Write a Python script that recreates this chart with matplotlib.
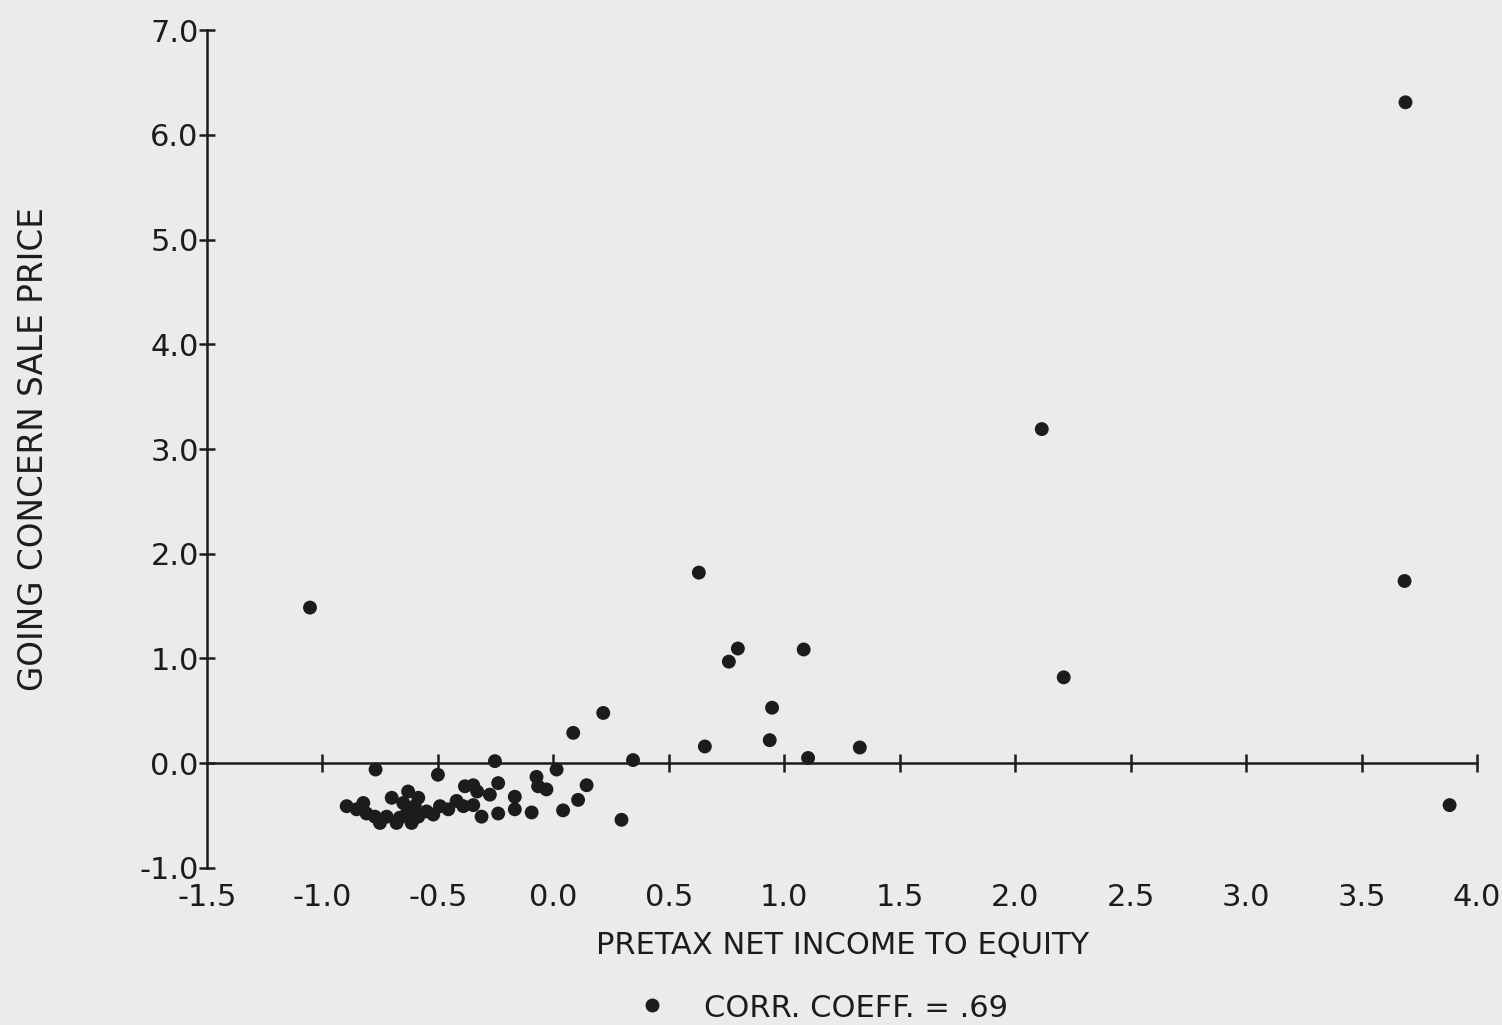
import matplotlib
matplotlib.use("Agg")
import matplotlib.pyplot as plt
from matplotlib.lines import Line2D

# data
x_vals = [-0.77, -0.50, -0.253, 0.014, 0.345, -0.073, -0.066, -0.03, 0.144, 0.107,
          0.295, 0.042, -0.094, -0.167, -0.167, -0.239, -0.239, -0.275, -0.347, -0.383,
          -0.33, -0.311, -0.347, -0.39, -0.419, -0.455, -0.491, -0.52, -0.549, -0.585,
          -0.60, -0.629, -0.65, -0.635, -0.614, -0.665, -0.679, -0.70, -0.722, -0.751,
          -0.773, -0.809, -0.823, -0.852, -0.895, -0.585,
          0.216, 0.086, 0.656, 0.947, 0.937, 1.103, 1.327,
          -1.054, 0.630, 0.76, 0.799, 1.084, 2.115, 2.21, 3.69, 3.686, 3.881]
y_vals = [-0.06, -0.11, 0.02, -0.06, 0.03, -0.13, -0.22, -0.25, -0.21, -0.35,
          -0.54, -0.45, -0.47, -0.44, -0.32, -0.48, -0.19, -0.30, -0.21, -0.22,
          -0.27, -0.51, -0.40, -0.41, -0.36, -0.44, -0.41, -0.49, -0.46, -0.51,
          -0.41, -0.27, -0.38, -0.48, -0.57, -0.52, -0.57, -0.33, -0.51, -0.57,
          -0.51, -0.48, -0.38, -0.44, -0.41, -0.33,
          0.48, 0.29, 0.16, 0.53, 0.22, 0.05, 0.15,
          1.486, 1.82, 0.97, 1.095, 1.086, 3.19, 0.82, 6.31, 1.74, -0.40]

x_ticks = [-1.5, -1.0, -0.5, 0.0, 0.5, 1.0, 1.5, 2.0, 2.5, 3.0, 3.5, 4.0]
x_tick_labels = ["-1.5", "-1.0", "-0.5", "0.0", "0.5", "1.0", "1.5",
                 "2.0", "2.5", "3.0", "3.5", "4.0"]
y_ticks = [-1.0, 0.0, 1.0, 2.0, 3.0, 4.0, 5.0, 6.0, 7.0]
y_tick_labels = ["-1.0", "0.0", "1.0", "2.0", "3.0", "4.0", "5.0", "6.0", "7.0"]

x_title = "PRETAX NET INCOME TO EQUITY"
y_title = "GOING CONCERN SALE PRICE"
note = "CORR. COEFF. = .69"

bg = "#ebebea"
ink = "#1c1c1c"
plt.rcParams['font.family'] = ['DejaVu Sans']
FS = 22

fig = plt.figure(figsize=(15.02, 10.25), dpi=100, facecolor=bg)
ax = fig.add_axes([0.1378, 0.1532, 0.8456, 0.8175], facecolor=bg)

ax.scatter(x_vals, y_vals, s=100, color=ink, edgecolors='none', zorder=3, clip_on=False)

ax.set_xlim(-1.5, 4.0)
ax.set_ylim(-1.0, 7.0)

for s in ['top', 'right']:
    ax.spines[s].set_visible(False)
ax.spines['bottom'].set_position(('data', 0))
ax.spines['bottom'].set_bounds(-1.5, 4.0)
for s in ['bottom', 'left']:
    ax.spines[s].set_linewidth(1.8)
    ax.spines[s].set_color(ink)

ax.set_xticks(x_ticks[1:])
ax.tick_params(axis='x', direction='inout', length=13, width=1.8, color=ink,
               labelbottom=False)
ax.set_yticks(y_ticks)
ax.set_yticklabels(y_tick_labels)
ax.tick_params(axis='y', direction='inout', length=12, width=1.8, color=ink,
               labelsize=FS, labelcolor=ink, pad=0)

sec = ax.secondary_xaxis(0)
sec.set_xticks(x_ticks)
sec.set_xticklabels(x_tick_labels)
sec.spines['bottom'].set_visible(False)
sec.tick_params(axis='x', length=0, labelsize=FS, labelcolor=ink, pad=11)
sec.set_xlabel(x_title, fontsize=FS, color=ink, labelpad=13)

ax.set_ylabel(y_title, fontsize=23.5, color=ink, labelpad=64)

fig.add_artist(Line2D([0.434], [0.0195], marker='o', markersize=9, color=ink,
                      linestyle='none', transform=fig.transFigure))
fig.text(0.469, 0.008, note, fontsize=FS, color=ink, ha='left', va='baseline')

fig.savefig("out.png", dpi=100, facecolor=bg)
